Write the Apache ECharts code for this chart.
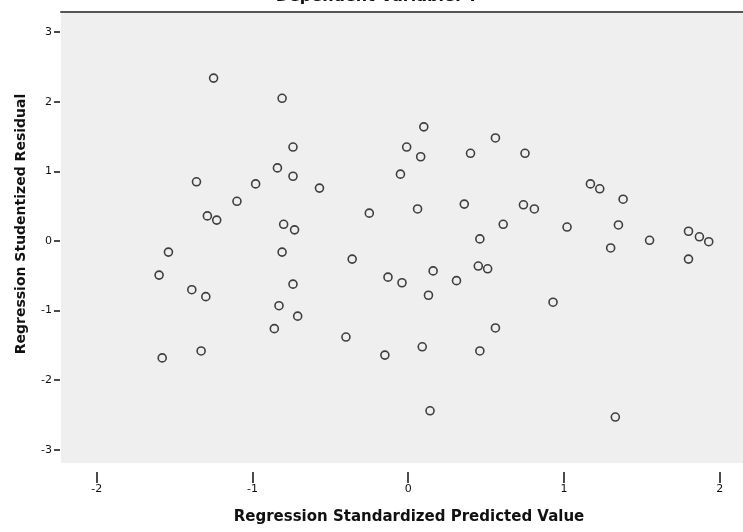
<!DOCTYPE html>
<html><head><meta charset="utf-8">
<script src="https://cdn.jsdelivr.net/npm/echarts@6/dist/echarts.min.js"></script>
<style>html,body{margin:0;padding:0;background:#fff}#c{width:743px;height:532px}</style>
</head><body><div id="c"></div>
<script>
const chartTitle = 'Dependent Variable: Y';
const xTitle = 'Regression Standardized Predicted Value';
const yTitle = 'Regression Studentized Residual';
const xTicks = [-2, -1, 0, 1, 2];
const yTicks = [-3, -2, -1, 0, 1, 2, 3];
const predicted = [
  -1.25, -0.81, -0.74, -0.84, -0.74, -1.36, -0.98, -1.10, -1.29, -1.23, -0.80, -0.73,
  0.10, -0.01, 0.08, -0.05, -0.57, -0.25, 0.06, 0.36, 0.56, 0.40, 0.61,
  0.75, 1.17, 1.23, 1.38, 0.74, 0.81, 1.02, 1.35, 1.30, 1.55, 1.80, 1.87, 1.93, 1.80, 0.93,
  -1.54, -1.60, -1.39, -1.30, -0.81, -0.74, -0.83, -0.71, -0.86, -1.33, -1.58,
  0.46, -0.36, -0.13, -0.04, 0.16, 0.31, 0.13, 0.45, 0.51, 0.56, -0.40, -0.15, 0.09, 0.46, 0.14, 1.33
];
const residual = [
  2.34, 2.05, 1.35, 1.05, 0.93, 0.85, 0.82, 0.57, 0.36, 0.30, 0.24, 0.16,
  1.64, 1.35, 1.21, 0.96, 0.76, 0.40, 0.46, 0.53, 1.48, 1.26, 0.24,
  1.26, 0.82, 0.75, 0.60, 0.52, 0.46, 0.20, 0.23, -0.10, 0.01, 0.14, 0.06, -0.01, -0.26, -0.88,
  -0.16, -0.49, -0.70, -0.80, -0.16, -0.62, -0.93, -1.08, -1.26, -1.58, -1.68,
  0.03, -0.26, -0.52, -0.60, -0.43, -0.57, -0.78, -0.36, -0.40, -1.25, -1.38, -1.64, -1.52, -1.58, -2.44, -2.53
];
const points = predicted.map((x, i) => [x, residual[i]]);

const chart = echarts.init(document.getElementById('c'), null, {renderer: 'canvas'});
const font = 'DejaVu Sans';
const xMin = -2.23, xMax = 2.15, yMin = -3.19, yMax = 3.29;
chart.setOption({
  animation: false,
  backgroundColor: '#ffffff',
  grid: {left: 61, right: 0, top: 12, bottom: 69, show: true, backgroundColor: '#efefef', borderWidth: 0},
  xAxis: [{
    type: 'value', min: xMin, max: xMax, position: 'bottom', offset: 9,
    axisLine: {show: false, onZero: false},
    axisTick: {show: true, length: 11, customValues: xTicks, lineStyle: {color: '#111', width: 1.5}},
    axisLabel: {customValues: xTicks, margin: 12, fontSize: 11, color: '#111', fontFamily: font},
    splitLine: {show: false}
  }, {
    type: 'value', min: xMin, max: xMax, position: 'top',
    axisLine: {show: true, onZero: false, lineStyle: {color: '#555', width: 2}},
    axisTick: {show: false}, axisLabel: {show: false}, splitLine: {show: false}
  }],
  yAxis: {
    type: 'value', min: yMin, max: yMax, position: 'left', offset: 1,
    axisLine: {show: false, onZero: false},
    axisTick: {show: true, length: 6, customValues: yTicks, lineStyle: {color: '#111', width: 1.5}},
    axisLabel: {customValues: yTicks, margin: 8, fontSize: 11, color: '#111', fontFamily: font},
    splitLine: {show: false}
  },
  graphic: [
    {type: 'text', x: 377, y: 5, style: {text: chartTitle, textAlign: 'center', textVerticalAlign: 'bottom', font: 'bold 16px "DejaVu Sans"', fill: '#111'}},
    {type: 'text', x: 409, y: 517, style: {text: xTitle, textAlign: 'center', textVerticalAlign: 'middle', font: 'bold 15px "DejaVu Sans"', fill: '#111'}},
    {type: 'text', x: 21, y: 224, rotation: Math.PI / 2, style: {text: yTitle, textAlign: 'center', textVerticalAlign: 'middle', font: 'bold 14px "DejaVu Sans"', fill: '#111'}}
  ],
  series: [{
    type: 'scatter', xAxisIndex: 0, yAxisIndex: 0, data: points,
    symbol: 'circle', symbolSize: 8,
    itemStyle: {color: 'rgba(0,0,0,0)', borderColor: '#111', borderWidth: 1.6}
  }]
});
</script></body></html>
